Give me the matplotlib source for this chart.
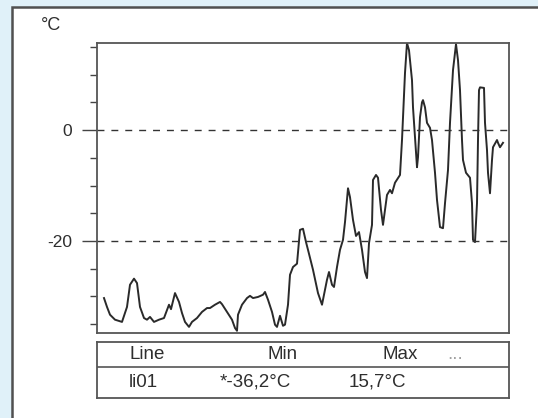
import matplotlib
matplotlib.use('Agg')
import matplotlib.pyplot as plt
from matplotlib.patches import Rectangle

plt.rcParams['font.family'] = ['Liberation Sans', 'DejaVu Sans']

# sample position along the record and temperature in degC
t = [7, 10, 13, 18, 25, 30, 33, 37, 40, 43, 47, 50, 53, 57, 62, 67, 72, 74, 78, 82,
     85, 88, 92, 95, 100, 105, 110, 113, 118, 123, 125, 130, 135, 138, 140, 141, 145, 150, 153, 156,
     161, 166, 168, 171, 175, 178, 180, 183, 186, 188, 191, 193, 196, 200, 203, 206, 209, 211, 216, 221,
     225, 230, 232, 235, 237, 240, 243, 246, 248, 251, 253, 256, 259, 262, 265, 268, 270, 272, 275, 276,
     279, 281, 284, 286, 290, 293, 295, 298, 303, 305, 308, 310, 312, 315, 316, 318, 320, 321, 323, 325,
     326, 328, 330, 333, 335, 338, 340, 343, 346, 348, 351, 353, 356, 359, 361, 363, 365, 366, 369, 373,
     375, 376, 378, 380, 381, 382, 383, 387, 388, 390, 391, 393, 395, 396, 400, 401, 403, 406]
temp = [-30.3, -31.9, -33.3, -34.2, -34.6, -31.9, -27.9, -26.8, -27.6, -31.9, -33.9, -34.2, -33.7, -34.6, -34.2, -33.9, -31.5, -32.3, -29.4, -31.0,
        -33.0, -34.6, -35.5, -34.6, -33.9, -32.8, -32.1, -32.1, -31.5, -31.0, -31.4, -32.8, -34.2, -35.7, -36.2, -33.3, -31.5, -30.3, -29.9, -30.3,
        -30.1, -29.7, -29.2, -30.6, -32.8, -35.1, -35.5, -33.5, -35.3, -35.1, -31.5, -26.1, -24.7, -24.1, -18.0, -17.8, -20.2, -21.6, -25.2, -29.4,
        -31.5, -27.0, -25.6, -27.9, -28.3, -24.7, -21.6, -19.8, -16.6, -10.5, -12.1, -16.2, -19.1, -18.4, -21.6, -25.6, -26.7, -20.4, -17.1, -9.0,
        -8.1, -8.6, -14.4, -17.1, -11.7, -10.8, -11.4, -9.5, -8.1, -1.8, 10.3, 15.7, 14.4, 9.0, 4.1, -1.3, -6.7, -4.9, 2.3, 5.0,
        5.4, 4.1, 1.3, 0.4, -1.8, -7.7, -12.6, -17.5, -17.7, -13.2, -7.2, 1.3, 10.8, 15.5, 12.6, 7.2, -1.8, -5.4, -7.7, -8.6,
        -13.2, -19.8, -20.2, -13.2, -1.8, 7.2, 7.7, 7.6, 1.3, -3.6, -7.7, -11.4, -5.4, -3.1, -1.8, -2.3, -3.1, -2.3]
assert len(t) == len(temp)

ref_lines = [0, -20]
line_name = 'li01'

W, H = 538, 418
fig = plt.figure(figsize=(W / 100, H / 100), dpi=100)
fig.patch.set_facecolor('#e0f1f9')
fig.patches.append(Rectangle((12 / W, -0.1), 1.1, 1 - 7 / H + 0.1, transform=fig.transFigure,
                             facecolor='white', edgecolor='#505050', lw=1.8, zorder=-5))

txt = '#2e2e2e'

# main plot
ax = fig.add_axes([97 / W, 1 - 333 / H, 412 / W, 290 / H])
ax.plot(t, temp, color='#2a2a2a', lw=1.4)
for r in ref_lines:
    ax.axhline(r, color='#333333', lw=1.0, dashes=(5, 5))
ax.set_xlim(0, 412)
ax.set_ylim(-36.6, 15.7)
ax.set_xticks([])
ax.set_yticks(ref_lines)
ax.set_yticklabels(['0', '-20'])
ax.set_yticks([v for v in range(-35, 16, 5) if v not in ref_lines], minor=True)
ax.tick_params(axis='y', which='major', length=11, width=1.0, pad=7, labelsize=12.5, colors='#444444',
               labelcolor=txt)
ax.tick_params(axis='y', which='minor', length=5, width=1.0, colors='#444444')
for s in ax.spines.values():
    s.set_color('#555555')
    s.set_linewidth(1.3)
fig.text(41 / W, 1 - 26 / H, '°C', fontsize=13, color=txt, va='center', ha='left')

# legend table below
tab = fig.add_axes([97 / W, 1 - 398 / H, 412 / W, 56 / H])
tab.set_xlim(0, 1)
tab.set_ylim(0, 1)
tab.set_xticks([])
tab.set_yticks([])
for s in tab.spines.values():
    s.set_color('#555555')
    s.set_linewidth(1.3)
tab.axhline(0.55, color='#555555', lw=1.2)

tmin = min(temp)
tmax = max(temp)
fs = 13.5
tab.text(0.078, 0.77, 'Line', fontsize=fs, va='center', ha='left', color=txt)
tab.text(0.45, 0.77, 'Min', fontsize=fs, va='center', ha='center', color=txt)
tab.text(0.735, 0.77, 'Max', fontsize=fs, va='center', ha='center', color=txt)
tab.text(0.87, 0.77, '...', fontsize=fs, va='center', ha='center', color='#a0a0a0')
tab.text(0.078, 0.28, line_name, fontsize=fs, va='center', ha='left', color=txt)
tab.text(0.385, 0.28, ('*%.1f°C' % tmin).replace('.', ','), fontsize=fs, va='center', ha='center', color=txt)
tab.text(0.68, 0.28, ('%.1f°C' % tmax).replace('.', ','), fontsize=fs, va='center', ha='center', color=txt)

plt.savefig('out.png', dpi=100, facecolor=fig.get_facecolor())
